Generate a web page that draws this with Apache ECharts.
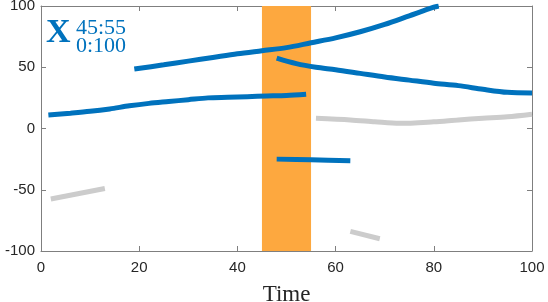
<!DOCTYPE html>
<html>
<head>
<meta charset="utf-8">
<script src="https://cdn.jsdelivr.net/npm/echarts@6/dist/echarts.min.js"></script>
<style>html,body{margin:0;padding:0;background:#fff}#c{width:548px;height:302px}</style>
</head>
<body>
<div id="c"></div>
<script>
// Data
const xTicks = [0, 20, 40, 60, 80, 100];
const yTicks = [-100, -50, 0, 50, 100];
const band = [45, 55];

const blue1X = [1.5, 6, 10, 14, 18, 22, 26, 30, 34, 38, 42, 46, 50, 54];
const blue1Y = [11, 12.5, 14, 16, 18.5, 20.5, 22, 23.5, 25, 25.5, 26, 26.5, 27, 28];

const blue2X = [19, 25, 30, 35, 40, 45, 50, 55, 60, 65, 70, 75, 80, 81];
const blue2Y = [48.5, 52, 55, 58, 61, 63.5, 66, 70, 74, 79, 85, 92, 99, 100];

const blue3X = [48, 52, 56, 60, 65, 70, 75, 80, 85, 90, 95, 100];
const blue3Y = [57.5, 53, 50, 48, 45, 42, 39.5, 37, 35, 32, 29.5, 29];

const blue4X = [48, 55, 63];
const blue4Y = [-25, -25.5, -26.3];

const gray1X = [56, 63, 68, 73, 80, 85, 90, 95, 100];
const gray1Y = [8.3, 7, 5.5, 4.2, 5.5, 7, 8.3, 9.5, 11.6];

const gray2X = [2, 13];
const gray2Y = [-57.5, -49];

const gray3X = [63, 69];
const gray3Y = [-84, -90];

const BLUE = '#0072BD';
const GRAY = '#CCCCCC';
const ORANGE = '#FDA83F';

function pairs(xs, ys) { return xs.map((x, i) => [x, ys[i]]); }
function line(xs, ys, color) {
  return {
    type: 'line', data: pairs(xs, ys), showSymbol: false, symbol: 'none',
    lineStyle: { color: color, width: 5, cap: 'butt' }, z: 3, silent: true,
    smooth: 0.3
  };
}

const chart = echarts.init(document.getElementById('c'), null, { renderer: 'canvas' });
const axisLineStyle = { color: '#7f7f7f', width: 1 };
const labelStyle = { color: '#262626', fontFamily: 'Liberation Sans', fontSize: 15 };

chart.setOption({
  animation: false,
  backgroundColor: '#fff',
  grid: { left: 41, right: 16, top: 6, bottom: 51, containLabel: false, outerBoundsMode: 'none' },
  xAxis: [
    {
      type: 'value', min: 0, max: 100, interval: 20,
      name: 'Time', nameLocation: 'middle', nameGap: 32,
      nameTextStyle: { fontFamily: 'Liberation Serif', fontSize: 23, color: '#262626' },
      axisLine: { show: true, onZero: false, lineStyle: axisLineStyle },
      axisTick: { show: true, inside: true, length: 5, lineStyle: axisLineStyle },
      axisLabel: Object.assign({ margin: 9 }, labelStyle),
      splitLine: { show: false }
    },
    {
      type: 'value', min: 0, max: 100, interval: 20, position: 'top',
      axisLine: { show: true, onZero: false, lineStyle: axisLineStyle },
      axisTick: { show: true, inside: true, length: 5, lineStyle: axisLineStyle },
      axisLabel: { show: false }, splitLine: { show: false }
    }
  ],
  yAxis: [
    {
      type: 'value', min: -100, max: 100, interval: 50,
      axisLine: { show: true, onZero: false, lineStyle: axisLineStyle },
      axisTick: { show: true, inside: true, length: 5, lineStyle: axisLineStyle },
      axisLabel: Object.assign({ margin: 6 }, labelStyle),
      splitLine: { show: false }
    },
    {
      type: 'value', min: -100, max: 100, interval: 50, position: 'right',
      axisLine: { show: true, onZero: false, lineStyle: axisLineStyle },
      axisTick: { show: true, inside: true, length: 5, lineStyle: axisLineStyle },
      axisLabel: { show: false }, splitLine: { show: false }
    }
  ],
  series: [
    {
      type: 'line', data: [], z: 1, silent: true,
      markArea: {
        silent: true,
        itemStyle: { color: ORANGE, opacity: 1 },
        data: [[{ xAxis: band[0] }, { xAxis: band[1] }]]
      }
    },
    line(blue1X, blue1Y, BLUE),
    line(blue2X, blue2Y, BLUE),
    line(blue3X, blue3Y, BLUE),
    line(blue4X, blue4Y, BLUE),
    line(gray1X, gray1Y, GRAY),
    line(gray2X, gray2Y, GRAY),
    line(gray3X, gray3Y, GRAY)
  ],
  graphic: [
    { type: 'text', left: 46, top: 16, z: 10,
      style: { text: 'X', fill: BLUE, font: 'bold 34px "Liberation Serif"' } },
    { type: 'text', left: 76, top: 17, z: 10,
      style: { text: '45:55', fill: BLUE, font: '22px "Liberation Serif"' } },
    { type: 'text', left: 76, top: 35, z: 10,
      style: { text: '0:100', fill: BLUE, font: '22px "Liberation Serif"' } }
  ]
});
</script>
</body>
</html>
